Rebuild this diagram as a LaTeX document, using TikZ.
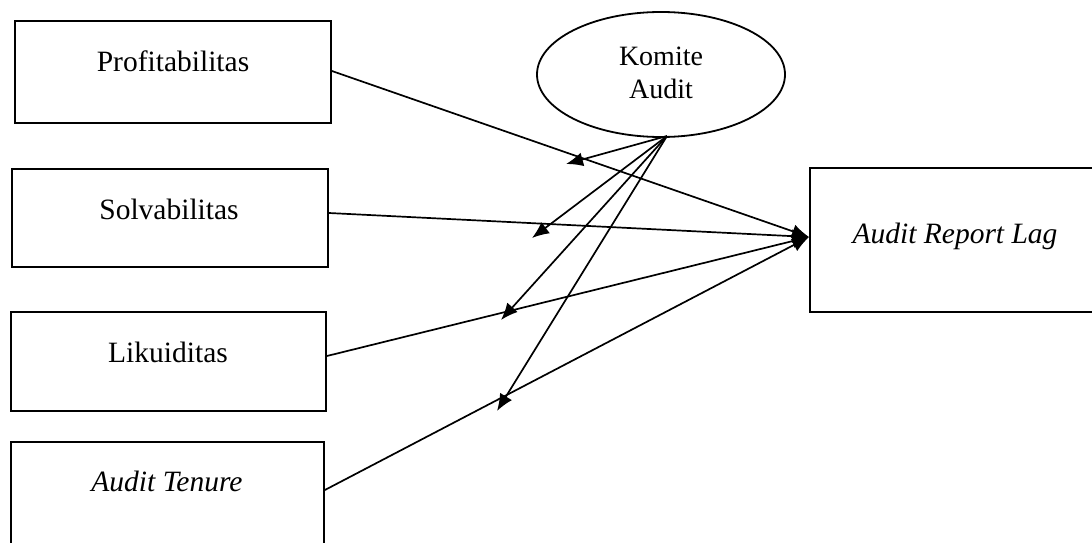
\documentclass[tikz,border=0pt]{standalone}
\usepackage{fontspec}
\setmainfont{Liberation Serif}
\usetikzlibrary{shapes.geometric,arrows.meta,calc}
\begin{document}
\begin{tikzpicture}[x=1pt,y=-1pt,
  varbox/.style={draw,line width=1.8pt,rectangle,inner sep=0pt},
  lbl/.style={anchor=base,inner sep=0pt,font=\fontsize{29.5}{33}\selectfont},
  klbl/.style={anchor=base,inner sep=0pt,font=\fontsize{28}{33}\selectfont},
  conn/.style={line width=1.7pt,-{Latex[length=17pt,width=14pt]}}]
\useasboundingbox (0,0) rectangle (1092,543);
\clip (0,0) rectangle (1092,543);
% boxes
\node[varbox,minimum width=316pt,minimum height=102pt] (p) at (173,72) {};
\node[varbox,minimum width=316pt,minimum height=98pt] (s) at (170,218) {};
\node[varbox,minimum width=315pt,minimum height=99pt] (l) at (168.5,361.5) {};
\node[varbox,minimum width=313pt,minimum height=108pt] (t) at (167.5,496) {};
\node[varbox,minimum width=300pt,minimum height=144pt] (r) at (960,240) {};
\node[draw,line width=1.8pt,ellipse,minimum width=248pt,minimum height=125pt,inner sep=0pt] (k) at (661,74.5) {};
% texts
\node[lbl] (pt) at (173,71) {Profitabilitas};
\node[lbl] (st) at (169,219) {Solvabilitas};
\node[lbl] (lt) at (168,362) {Likuiditas};
\node[lbl] (tt) at (167,491) {\itshape Audit Tenure};
\node[lbl] (rt) at (955,243) {\itshape Audit Report Lag};
\node[klbl] (kt1) at (661,66) {Komite};
\node[klbl] (kt2) at (661,99) {Audit};
% connectors to dependent
\draw[conn] ([yshift=1pt]p.east) -- ([yshift=3pt]r.west);
\draw[conn] ([yshift=5pt]s.east) -- ([yshift=3pt]r.west);
\draw[conn] ([yshift=5.5pt]l.east) -- ([yshift=3pt]r.west);
\draw[conn] ([yshift=6pt]t.east) -- ([yshift=3pt]r.west);
% moderation arrows
\coordinate (ko) at (667,136);
\coordinate (m1) at (566,164);
\coordinate (m2) at (532,238);
\coordinate (m3) at (501,320);
\coordinate (m4) at (497,411);
\draw[conn] (ko) -- (m1);
\draw[conn] (ko) -- (m2);
\draw[conn] (ko) -- (m3);
\draw[conn] (ko) -- (m4);
\end{tikzpicture}
\end{document}
